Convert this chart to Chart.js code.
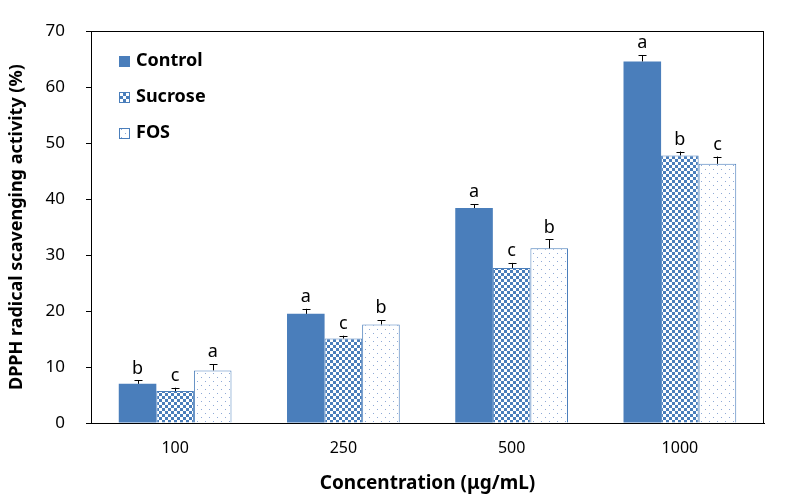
<!DOCTYPE html>
<html>
<head>
<meta charset="utf-8">
<script src="https://cdn.jsdelivr.net/npm/chart.js@4"></script>
<style>
  html, body { margin: 0; padding: 0; background: #fff; }
  #wrap { width: 787px; height: 499px; }
</style>
</head>
<body>
<div id="wrap"><canvas id="grafico" width="787" height="499"></canvas></div>
<script>
// dados
const concentracoes = ['100', '250', '500', '1000'];
const nomesSeries = ['Control', 'Sucrose', 'FOS'];
const control = [7.0, 19.5, 38.4, 64.6];
const sucrose = [5.7, 15.1, 27.7, 47.8];
const fos = [9.4, 17.6, 31.2, 46.3];
const erroControl = [0.6, 0.9, 0.7, 1.1];
const erroSucrose = [0.6, 0.5, 0.9, 0.7];
const erroFos = [1.1, 0.8, 1.6, 1.3];
const letrasControl = ['b', 'a', 'a', 'a'];
const letrasSucrose = ['c', 'c', 'c', 'b'];
const letrasFos = ['a', 'b', 'b', 'c'];
const yTicks = [0, 10, 20, 30, 40, 50, 60, 70];

const azul = '#4a7ebb';
const fonte = "'Noto Sans', 'DejaVu Sans', sans-serif";

// padrão xadrez (Sucrose)
function padraoXadrez() {
    const c = document.createElement('canvas');
    c.width = 6; c.height = 6;
    const g = c.getContext('2d');
    g.fillStyle = '#ffffff';
    g.fillRect(0, 0, 6, 6);
    g.fillStyle = azul;
    g.fillRect(0, 0, 3, 3);
    g.fillRect(3, 3, 3, 3);
    return g.createPattern(c, 'repeat');
}

// padrão pontilhado (FOS)
function padraoPontos() {
    const c = document.createElement('canvas');
    c.width = 8; c.height = 8;
    const g = c.getContext('2d');
    g.fillStyle = '#ffffff';
    g.fillRect(0, 0, 8, 8);
    g.fillStyle = '#8ea9d6';
    g.fillRect(1, 1, 1, 1);
    g.fillRect(5, 5, 1, 1);
    return g.createPattern(c, 'repeat');
}

const ctx = document.getElementById('grafico').getContext('2d');
const preenchimentos = [azul, padraoXadrez(), padraoPontos()];
const erros = [erroControl, erroSucrose, erroFos];
const letras = [letrasControl, letrasSucrose, letrasFos];

// barras de erro, letras, moldura e legenda
const extras = {
    id: 'extras',
    afterDatasetsDraw(chart) {
        const c = chart.ctx;
        const y = chart.scales.y;
        const area = chart.chartArea;
        c.save();
        chart.data.datasets.forEach((ds, i) => {
            const meta = chart.getDatasetMeta(i);
            meta.data.forEach((bar, j) => {
                const topo = y.getPixelForValue(ds.data[j] + erros[i][j]);
                const base = y.getPixelForValue(ds.data[j]);
                c.strokeStyle = '#000';
                c.lineWidth = 1;
                c.beginPath();
                c.moveTo(Math.round(bar.x) + 0.5, base);
                c.lineTo(Math.round(bar.x) + 0.5, topo);
                c.moveTo(Math.round(bar.x) - 3.5, Math.round(topo) + 0.5);
                c.lineTo(Math.round(bar.x) + 4.5, Math.round(topo) + 0.5);
                c.stroke();
                c.fillStyle = '#000';
                c.font = '18px ' + fonte;
                c.textAlign = 'center';
                c.textBaseline = 'bottom';
                c.fillText(letras[i][j], bar.x, topo - 3);
            });
        });
        // moldura
        c.strokeStyle = '#000';
        c.lineWidth = 1;
        c.strokeRect(Math.round(area.left) + 0.5, Math.round(area.top) + 0.5,
            Math.round(area.right - area.left) - 1, Math.round(area.bottom - area.top));
        // legenda
        chart.data.datasets.forEach((ds, i) => {
            const ly = 61 + i * 36;
            const lx = area.left + 28;
            c.fillStyle = ds.backgroundColor;
            c.fillRect(lx, ly - 5, 11, 11);
            c.strokeStyle = azul;
            c.strokeRect(lx + 0.5, ly - 4.5, 10, 10);
            c.fillStyle = '#000';
            c.font = 'bold 18px ' + fonte;
            c.textAlign = 'left';
            c.textBaseline = 'middle';
            c.fillText(ds.label, lx + 17, ly);
        });
        c.restore();
    }
};

new Chart(ctx, {
    type: 'bar',
    data: {
        labels: concentracoes,
        datasets: [
            { label: nomesSeries[0], data: control, backgroundColor: preenchimentos[0], borderColor: azul, borderWidth: 0 },
            { label: nomesSeries[1], data: sucrose, backgroundColor: preenchimentos[1], borderColor: azul, borderWidth: 1 },
            { label: nomesSeries[2], data: fos, backgroundColor: preenchimentos[2], borderColor: azul, borderWidth: 1 }
        ]
    },
    options: {
        responsive: false,
        animation: false,
        layout: { padding: { top: 26, right: 23, left: 0, bottom: 0 } },
        datasets: { bar: { categoryPercentage: 0.67, barPercentage: 1.0 } },
        plugins: {
            legend: { display: false },
            tooltip: { enabled: false }
        },
        scales: {
            x: {
                grid: { display: false },
                border: { display: true, color: '#000' },
                ticks: { color: '#000', padding: 8, font: { size: 16, family: fonte } },
                title: {
                    display: true,
                    text: 'Concentration (μg/mL)',
                    color: '#000',
                    font: { size: 19, weight: 'bold', family: fonte },
                    padding: { top: 8 }
                },
                afterFit(s) { s.height = 76; }
            },
            y: {
                min: 0,
                max: 70,
                afterBuildTicks(s) { s.ticks = yTicks.map(v => ({ value: v })); },
                grid: { drawOnChartArea: false, drawTicks: true, tickLength: 5, color: '#000' },
                border: { display: true, color: '#000' },
                ticks: { color: '#000', padding: 21, font: { size: 17, family: fonte } },
                title: {
                    display: true,
                    text: 'DPPH radical scavenging activity (%)',
                    color: '#000',
                    font: { size: 18, weight: 'bold', family: fonte },
                    padding: { top: 6, bottom: 0 }
                },
                afterFit(s) { s.width = 91; }
            }
        }
    },
    plugins: [extras]
});
</script>
</body>
</html>
